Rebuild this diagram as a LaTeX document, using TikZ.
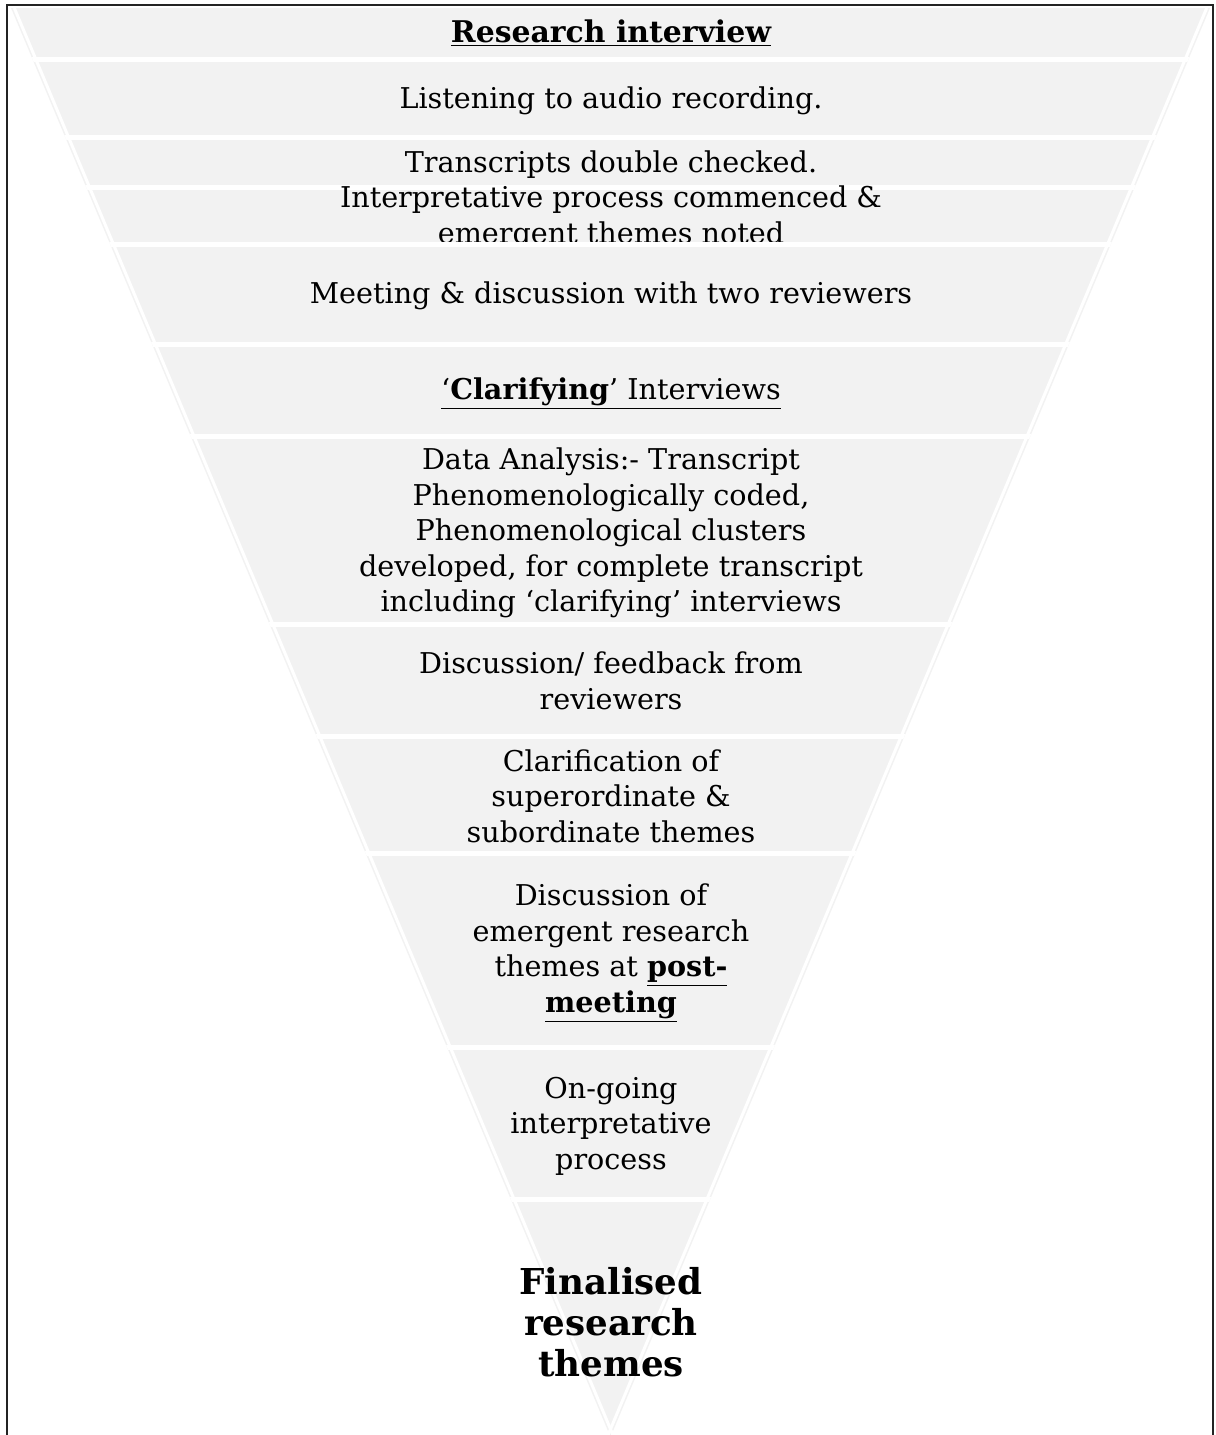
\documentclass[tikz,border=0pt]{standalone}
\usepackage{fontspec}
\setmainfont{DejaVu Serif}
\usetikzlibrary{positioning}
\definecolor{cinzaclaro}{RGB}{242,242,242}
\definecolor{moldura}{RGB}{35,35,35}

\begin{document}
\begin{tikzpicture}[
    x=0.02cm, y=-0.02cm,
    etapa/.style={
        align=center,
        inner sep=0pt,
        font=\fontsize{16.3}{20.2}\selectfont
    },
    destaque/.style={
        etapa,
        font=\fontsize{20.3}{23.3}\selectfont\bfseries
    },
    corte/.style={
        draw=white,
        line width=0.1cm
    },
    contorno/.style={
        draw=white,
        line width=0.06cm
    }
]
\useasboundingbox (0,0) rectangle (1215,1435);

\coordinate (tl) at (11,8);
\coordinate (tr) at (1210,8);
\coordinate (apex) at (610.5,1437);

\draw[moldura, line width=0.05cm] (7,1440) -- (7,5) -- (1213,5) -- (1213,1440);

\begin{scope}
\clip (tl) -- (tr) -- (apex) -- cycle;
\fill[cinzaclaro] (0,8) rectangle (1215,243);
\foreach \g in {60,138,188}
    \draw[corte] (0,\g) -- (1215,\g);
\end{scope}

\node[etapa, font=\fontsize{17}{20.2}\selectfont\bfseries] (interview) at (611,33)
{\underline{Research interview}};

\node[etapa] (listening) at (611,101)
{Listening to audio recording.};

\node[etapa] (transcripts) at (611,200)
{Transcripts double checked.\\
Interpretative process commenced \&\\
emergent themes noted};

\begin{scope}
\clip (tl) -- (tr) -- (apex) -- cycle;
\fill[cinzaclaro] (0,243) rectangle (1215,1440);
\foreach \g in {245,345,437,624,736,853,1047,1199}
    \draw[corte] (0,\g) -- (1215,\g);
\end{scope}

\draw[contorno] (14.3,8) -- (613.8,1437);
\draw[contorno] (1206.7,8) -- (607.2,1437);

\node[etapa] (meeting) at (611,296)
{Meeting \& discussion with two reviewers};

\node[etapa] (clarifying) at (611,394)
{\underline{`\textbf{Clarifying}' Interviews}};

\node[etapa] (analysis) at (611,533)
{Data Analysis:- Transcript\\
Phenomenologically coded,\\
Phenomenological clusters\\
developed, for complete transcript\\
including `clarifying' interviews};

\node[etapa] (feedback) at (611,681)
{Discussion/ feedback from\\
reviewers};

\node[etapa] (clarification) at (611,796)
{Clarification of\\
superordinate \&\\
subordinate themes};

\node[etapa] (postmeeting) at (611,953)
{Discussion of\\
emergent research\\
themes at \textbf{\underline{post-}}\\
\textbf{\underline{meeting}}};

\node[etapa] (ongoing) at (611,1126)
{On-going\\
interpretative\\
process};

\node[destaque] (final) at (611,1322)
{Finalised\\
research\\
themes};

\end{tikzpicture}
\end{document}
